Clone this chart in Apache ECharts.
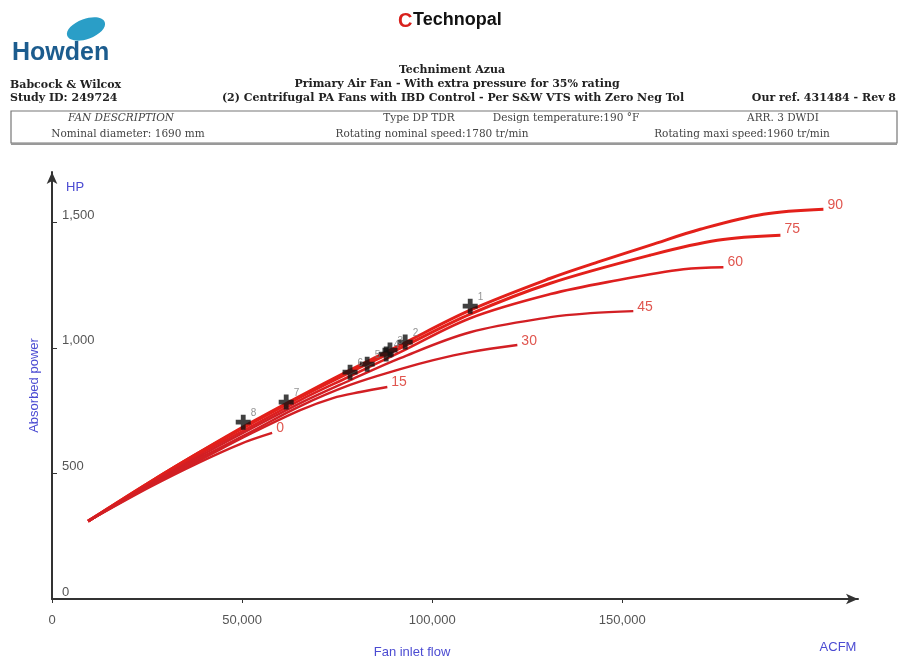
<!DOCTYPE html>
<html>
<head>
<meta charset="utf-8">
<script src="https://cdn.jsdelivr.net/npm/echarts@6/dist/echarts.min.js"></script>
<style>
html, body { margin: 0; padding: 0; background: #fff; }
#main { width: 899px; height: 663px; }
</style>
</head>
<body>
<div id="main"></div>
<script>
// damper curves, [ACFM, HP]
const curve90 = [[9500, 310], [25800, 466], [38900, 585], [52100, 700], [65300, 808], [78400, 911], [91600, 1011], [110000, 1150], [131100, 1277], [144300, 1345], [157400, 1409], [170500, 1472], [187100, 1532], [202900, 1552]];
const curve75 = [[9500, 310], [25800, 466], [38900, 585], [52100, 696], [65300, 804], [78400, 903], [91600, 999], [110000, 1134], [131100, 1257], [157400, 1369], [175000, 1428], [191600, 1448]];
const curve60 = [[9500, 310], [25800, 462], [38900, 577], [52100, 684], [65300, 792], [78400, 887], [91600, 983], [110000, 1118], [131100, 1214], [148700, 1269], [166100, 1313], [176600, 1321]];
const curve45 = [[9500, 310], [25800, 458], [38900, 569], [52100, 676], [65300, 780], [78400, 871], [91600, 959], [110000, 1062], [131100, 1122], [141600, 1138], [152900, 1146]];
const curve30 = [[9500, 310], [25800, 454], [38900, 561], [52100, 664], [65300, 768], [78400, 852], [91600, 915], [100300, 951], [110000, 983], [122400, 1011]];
const curve15 = [[9500, 310], [25800, 450], [38900, 553], [52100, 657], [65300, 752], [73900, 800], [81100, 824], [88200, 844]];
const curve0 = [[9500, 310], [25800, 446], [38900, 545], [49500, 617], [57900, 661]];
const curveNames = ['90', '75', '60', '45', '30', '15', '0'];

// operating points
const pointNames = ['1', '2', '3', '4', '5', '6', '7', '8'];
const pointFlow = [110000, 92900, 88900, 87900, 82900, 78400, 61600, 50300];
const pointPower = [1166, 1023, 991, 975, 935, 903, 784, 704];

const xTicks = [0, 50000, 100000, 150000];
const yTicks = [0, 500, 1000, 1500];

const chart = echarts.init(document.getElementById('main'));

const curves = [curve90, curve75, curve60, curve45, curve30, curve15, curve0];
const endOffsets = [[0, -4], [0, -6], [0, -5], [0, -4], [0, -4], [0, -5], [0, -5]];
const lineWidths = [3, 3, 2.6, 2.4, 2.4, 2.4, 2.4];
const lineColors = ['#e3201a', '#e3201a', '#dd1f1f', '#d21f24', '#d21f24', '#d21f24', '#d21f24'];
const plus = 'path://M3.4,0H6.6V3.4H10V6.6H6.6V10H3.4V6.6H0V3.4H3.4Z';
const fmt = v => v.toLocaleString('en-US');
const blue = '#4b4bd2';
const serifB = 'bold 11px "DejaVu Serif"';
const serif = '10.5px "DejaVu Serif"';

const lineSeries = curves.map((d, i) => ({
  type: 'line',
  name: curveNames[i],
  data: d,
  smooth: 0.35,
  symbol: 'none',
  lineStyle: { color: lineColors[i], width: lineWidths[i] },
  endLabel: {
    show: true,
    formatter: '{a}',
    color: '#e0564f',
    fontSize: 14,
    fontFamily: 'Liberation Sans',
    distance: 4,
    offset: endOffsets[i]
  },
  z: 2
}));

function txt(text, x, y, font, fill, align) {
  return {
    type: 'text', x: x, y: y, z: 10,
    style: { text: text, font: font, fill: fill || '#222', textAlign: align || 'left', textVerticalAlign: 'middle' }
  };
}

const option = {
  animation: false,
  grid: { left: 52, right: 41, top: 172, bottom: 64 },
  xAxis: {
    type: 'value',
    min: 0,
    max: 212000,
    splitLine: { show: false },
    axisLine: { lineStyle: { color: '#333', width: 2 }, symbol: ['none', 'arrow'], symbolSize: [8, 12] },
    axisTick: { customValues: xTicks, length: 4, lineStyle: { color: '#333' } },
    axisLabel: { customValues: xTicks, formatter: fmt, color: '#555', fontSize: 13, margin: 15, fontFamily: 'Liberation Sans' }
  },
  yAxis: {
    type: 'value',
    min: 0,
    max: 1700,
    name: 'Absorbed power',
    nameLocation: 'middle',
    nameGap: 11,
    nameTextStyle: { color: blue, fontSize: 13, fontFamily: 'Liberation Sans' },
    splitLine: { show: false },
    axisLine: { lineStyle: { color: '#333', width: 2 }, symbol: ['none', 'arrow'], symbolSize: [8, 12] },
    axisTick: { customValues: yTicks, inside: true, length: 5, lineStyle: { color: '#333' } },
    axisLabel: { customValues: yTicks, inside: true, formatter: fmt, color: '#555', fontSize: 13, margin: 10, fontFamily: 'Liberation Sans', verticalAlign: 'bottom', lineHeight: 14 }
  },
  series: lineSeries.concat([{
    type: 'scatter',
    data: pointFlow.map((x, i) => [x, pointPower[i], pointNames[i]]),
    symbol: plus,
    symbolSize: 15,
    itemStyle: { color: '#111' },
    label: {
      show: true,
      formatter: p => p.data[2],
      position: 'right',
      distance: 0,
      offset: [0, -9],
      fontSize: 10,
      color: '#777',
      fontFamily: 'Liberation Sans'
    },
    z: 5
  }]),
  graphic: [
    // logos
    { type: 'ellipse', x: 86, y: 29, rotation: 0.35, shape: { cx: 0, cy: 0, rx: 20, ry: 10 }, style: { fill: '#2a9ec7' } },
    txt('Howden', 12, 53, 'bold 25px "Liberation Sans"', '#1c5c8e'),
    txt('C', 398, 21, 'bold 20px "Liberation Sans"', '#d8201c'),
    txt('Technopal', 413, 20, 'bold 18px "Liberation Sans"', '#111'),
    // header lines
    txt('Techniment Azua', 452, 70, serifB, '#222', 'center'),
    txt('Babcock & Wilcox', 10, 85, serifB),
    txt('Primary Air Fan - With extra pressure for 35% rating', 457, 84, serifB, '#222', 'center'),
    txt('Study ID: 249724', 10, 98, serifB),
    txt('(2) Centrifugal PA Fans with IBD Control - Per S&W VTS with Zero Neg Tol', 453, 98, serifB, '#222', 'center'),
    txt('Our ref. 431484 - Rev 8', 896, 98, serifB, '#222', 'right'),
    // fan description box
    { type: 'rect', shape: { x: 11, y: 111, width: 886, height: 32 }, style: { fill: 'none', stroke: '#777', lineWidth: 1.2 } },
    { type: 'line', shape: { x1: 11, y1: 144, x2: 897, y2: 144 }, style: { stroke: '#999', lineWidth: 2 } },
    txt('FAN DESCRIPTION', 121, 118, 'italic ' + serif, '#444', 'center'),
    txt('Type DP TDR', 419, 118, serif, '#444', 'center'),
    txt('Design temperature:190 °F', 566, 118, serif, '#444', 'center'),
    txt('ARR. 3 DWDI', 783, 118, serif, '#444', 'center'),
    txt('Nominal diameter: 1690 mm', 128, 134, serif, '#444', 'center'),
    txt('Rotating nominal speed:1780 tr/min', 432, 134, serif, '#444', 'center'),
    txt('Rotating maxi speed:1960 tr/min', 742, 134, serif, '#444', 'center'),
    // axis units
    txt('HP', 66, 187, '13px "Liberation Sans"', blue),
    txt('Fan inlet flow', 412, 652, '13px "Liberation Sans"', blue, 'center'),
    txt('ACFM', 838, 647, '13px "Liberation Sans"', blue, 'center')
  ]
};

chart.setOption(option);
</script>
</body>
</html>
